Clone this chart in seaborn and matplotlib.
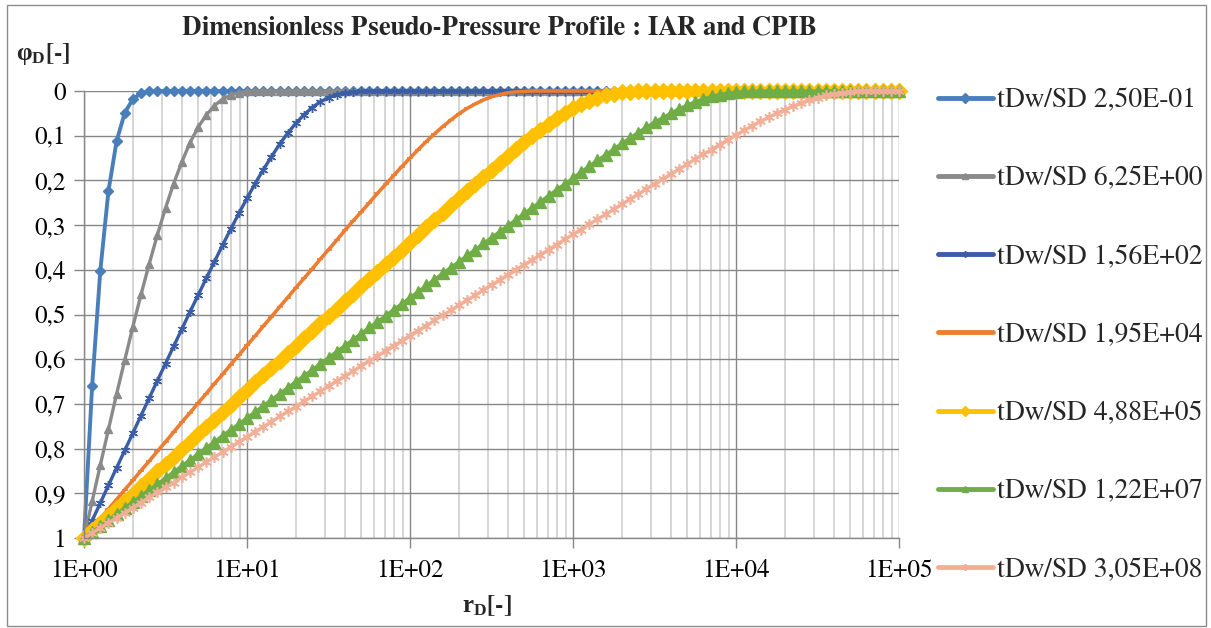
import os
import numpy as np
import matplotlib
matplotlib.use("Agg")
import matplotlib.pyplot as plt
import matplotlib.font_manager as fm
import seaborn as sns
from matplotlib.patches import Rectangle
from matplotlib.ticker import FixedLocator, FuncFormatter, LogLocator, NullFormatter

# ---------------------------------------------------------------------------
# Data: dimensionless pseudo-pressure phi_D sampled on a log grid of r_D
# (20 samples per decade, r_D = 1 ... 1E+05)
# ---------------------------------------------------------------------------
r_grid = np.logspace(0, 5, 101)

series_labels = [
    "tDw/SD 2,50E-01",
    "tDw/SD 6,25E+00",
    "tDw/SD 1,56E+02",
    "tDw/SD 1,95E+04",
    "tDw/SD 4,88E+05",
    "tDw/SD 1,22E+07",
    "tDw/SD 3,05E+08",
]

phi_t1 = [
    1.000, 0.659, 0.402, 0.224, 0.112, 0.049, 0.018, 0.005, 0.001, 0,
    0, 0, 0, 0, 0, 0, 0, 0, 0, 0,
    0, 0, 0, 0, 0, 0, 0, 0, 0, 0,
    0, 0, 0, 0, 0, 0, 0, 0, 0, 0,
    0, 0, 0, 0, 0, 0, 0, 0, 0, 0,
    0, 0, 0, 0, 0, 0, 0, 0, 0, 0,
    0, 0, 0, 0, 0, 0, 0, 0, 0, 0,
    0, 0, 0, 0, 0, 0, 0, 0, 0, 0,
    0, 0, 0, 0, 0, 0, 0, 0, 0, 0,
    0, 0, 0, 0, 0, 0, 0, 0, 0, 0,
    0,
]
phi_t2 = [
    1.000, 0.918, 0.837, 0.757, 0.678, 0.602, 0.527, 0.455, 0.387, 0.322,
    0.262, 0.207, 0.159, 0.116, 0.081, 0.054, 0.033, 0.018, 0.009, 0.004,
    0.001, 0, 0, 0, 0, 0, 0, 0, 0, 0,
    0, 0, 0, 0, 0, 0, 0, 0, 0, 0,
    0, 0, 0, 0, 0, 0, 0, 0, 0, 0,
    0, 0, 0, 0, 0, 0, 0, 0, 0, 0,
    0, 0, 0, 0, 0, 0, 0, 0, 0, 0,
    0, 0, 0, 0, 0, 0, 0, 0, 0, 0,
    0, 0, 0, 0, 0, 0, 0, 0, 0, 0,
    0, 0, 0, 0, 0, 0, 0, 0, 0, 0,
    0,
]
phi_t3 = [
    1.000, 0.961, 0.922, 0.882, 0.843, 0.804, 0.765, 0.726, 0.687, 0.648,
    0.610, 0.571, 0.533, 0.494, 0.457, 0.419, 0.382, 0.345, 0.309, 0.274,
    0.240, 0.207, 0.176, 0.147, 0.119, 0.094, 0.072, 0.053, 0.037, 0.024,
    0.015, 0.008, 0.004, 0.002, 0.001, 0, 0, 0, 0, 0,
    0, 0, 0, 0, 0, 0, 0, 0, 0, 0,
    0, 0, 0, 0, 0, 0, 0, 0, 0, 0,
    0, 0, 0, 0, 0, 0, 0, 0, 0, 0,
    0, 0, 0, 0, 0, 0, 0, 0, 0, 0,
    0, 0, 0, 0, 0, 0, 0, 0, 0, 0,
    0, 0, 0, 0, 0, 0, 0, 0, 0, 0,
    0,
]
phi_t4 = [
    1.000, 0.978, 0.957, 0.935, 0.914, 0.892, 0.871, 0.849, 0.828, 0.806,
    0.785, 0.763, 0.741, 0.720, 0.698, 0.677, 0.655, 0.634, 0.612, 0.591,
    0.569, 0.548, 0.526, 0.505, 0.483, 0.462, 0.440, 0.419, 0.398, 0.376,
    0.355, 0.334, 0.312, 0.291, 0.271, 0.250, 0.229, 0.209, 0.189, 0.169,
    0.150, 0.131, 0.113, 0.096, 0.080, 0.065, 0.051, 0.039, 0.029, 0.020,
    0.013, 0.008, 0.004, 0.002, 0.001, 0, 0, 0, 0, 0,
    0, 0, 0, 0, 0, 0, 0, 0, 0, 0,
    0, 0, 0, 0, 0, 0, 0, 0, 0, 0,
    0, 0, 0, 0, 0, 0, 0, 0, 0, 0,
    0, 0, 0, 0, 0, 0, 0, 0, 0, 0,
    0,
]
phi_t5 = [
    1.000, 0.983, 0.967, 0.950, 0.934, 0.917, 0.901, 0.884, 0.868, 0.851,
    0.834, 0.818, 0.801, 0.785, 0.768, 0.752, 0.735, 0.719, 0.702, 0.685,
    0.669, 0.652, 0.636, 0.619, 0.603, 0.586, 0.570, 0.553, 0.536, 0.520,
    0.503, 0.487, 0.470, 0.454, 0.437, 0.421, 0.404, 0.388, 0.371, 0.355,
    0.338, 0.322, 0.305, 0.289, 0.272, 0.256, 0.240, 0.224, 0.208, 0.192,
    0.176, 0.160, 0.145, 0.130, 0.115, 0.101, 0.087, 0.074, 0.061, 0.050,
    0.039, 0.030, 0.022, 0.015, 0.010, 0.006, 0.003, 0.002, 0.001, 0,
    0, 0, 0, 0, 0, 0, 0, 0, 0, 0,
    0, 0, 0, 0, 0, 0, 0, 0, 0, 0,
    0, 0, 0, 0, 0, 0, 0, 0, 0, 0,
    0,
]
phi_t6 = [
    1.000, 0.987, 0.973, 0.960, 0.946, 0.933, 0.919, 0.906, 0.892, 0.879,
    0.866, 0.852, 0.839, 0.825, 0.812, 0.798, 0.785, 0.771, 0.758, 0.745,
    0.731, 0.718, 0.704, 0.691, 0.677, 0.664, 0.650, 0.637, 0.624, 0.610,
    0.597, 0.583, 0.570, 0.556, 0.543, 0.529, 0.516, 0.503, 0.489, 0.476,
    0.462, 0.449, 0.435, 0.422, 0.408, 0.395, 0.382, 0.368, 0.355, 0.341,
    0.328, 0.315, 0.301, 0.288, 0.274, 0.261, 0.248, 0.234, 0.221, 0.208,
    0.195, 0.181, 0.168, 0.155, 0.143, 0.130, 0.117, 0.105, 0.093, 0.081,
    0.070, 0.060, 0.050, 0.040, 0.032, 0.024, 0.018, 0.012, 0.008, 0.005,
    0.003, 0.001, 0.001, 0, 0, 0, 0, 0, 0, 0,
    0, 0, 0, 0, 0, 0, 0, 0, 0, 0,
    0,
]
phi_t7 = [
    1.000, 0.989, 0.977, 0.966, 0.955, 0.943, 0.932, 0.921, 0.909, 0.898,
    0.887, 0.876, 0.864, 0.853, 0.842, 0.830, 0.819, 0.808, 0.796, 0.785,
    0.774, 0.762, 0.751, 0.740, 0.728, 0.717, 0.706, 0.694, 0.683, 0.672,
    0.660, 0.649, 0.638, 0.627, 0.615, 0.604, 0.593, 0.581, 0.570, 0.559,
    0.547, 0.536, 0.525, 0.513, 0.502, 0.491, 0.479, 0.468, 0.457, 0.445,
    0.434, 0.423, 0.411, 0.400, 0.389, 0.378, 0.366, 0.355, 0.344, 0.332,
    0.321, 0.310, 0.298, 0.287, 0.276, 0.265, 0.253, 0.242, 0.231, 0.219,
    0.208, 0.197, 0.186, 0.175, 0.164, 0.152, 0.141, 0.131, 0.120, 0.109,
    0.099, 0.088, 0.078, 0.068, 0.059, 0.050, 0.042, 0.034, 0.027, 0.020,
    0.015, 0.010, 0.007, 0.004, 0.002, 0.001, 0, 0, 0, 0,
    0,
]

x_tick_values = [1e0, 1e1, 1e2, 1e3, 1e4, 1e5]
y_tick_values = [0.0, 0.1, 0.2, 0.3, 0.4, 0.5, 0.6, 0.7, 0.8, 0.9, 1.0]

all_phi = [phi_t1, phi_t2, phi_t3, phi_t4, phi_t5, phi_t6, phi_t7]
for p in all_phi:
    assert len(p) == len(r_grid), len(p)

# ---------------------------------------------------------------------------
# Fonts: a Times-like serif, loaded from its file
# ---------------------------------------------------------------------------
def find_font_file(candidates):
    files = fm.findSystemFonts()
    for cand in candidates:
        for f in files:
            if os.path.basename(f).lower() == cand.lower():
                return f
    return None


serif_regular = find_font_file(["FreeSerif.ttf", "LiberationSerif-Regular.ttf",
                                "DejaVuSerif.ttf"])
serif_bold = find_font_file(["FreeSerifBold.ttf", "LiberationSerif-Bold.ttf",
                             "DejaVuSerif-Bold.ttf"])


def fp(size, bold=False):
    path = serif_bold if bold else serif_regular
    if path:
        return fm.FontProperties(fname=path, size=size)
    return fm.FontProperties(family="serif", size=size,
                             weight="bold" if bold else "normal")


sns.set_theme(style="white")
plt.rcParams["font.family"] = "serif"
plt.rcParams["font.serif"] = ["FreeSerif", "Liberation Serif", "DejaVu Serif"]
plt.rcParams["mathtext.fontset"] = "custom"
plt.rcParams["mathtext.rm"] = "Liberation Serif"
plt.rcParams["mathtext.bf"] = "Liberation Serif:bold"
plt.rcParams["mathtext.it"] = "Liberation Serif:italic"

colors = ["#4A7EBB", "#8A8A8A", "#3A5DA6", "#ED7D31", "#FFC000", "#70AD47", "#F2AF98"]
markers = ["D", "^", (6, 2, 0), "_", "D", "^", (6, 2, 0)]
msizes = [5.0, 6.0, 6.5, 4.0, 8.0, 9.0, 7.5]
mews = [1.0, 1.0, 1.0, 1.2, 1.0, 1.0, 1.2]
lws = [2.8, 2.4, 2.4, 2.6, 2.4, 2.4, 2.4]

W, H = 1211, 628
fig = plt.figure(figsize=(W / 100, H / 100), dpi=100)
fig.patch.set_facecolor("white")
ax = fig.add_axes([84 / W, 1 - 538 / H, (899 - 84) / W, (538 - 91) / H])
ax.set_xscale("log")

for phi, lab, col, mk, ms, mew, lw in zip(all_phi, series_labels, colors, markers,
                                           msizes, mews, lws):
    sns.lineplot(
        x=r_grid, y=phi, ax=ax, color=col, linewidth=lw,
        marker=mk, markersize=ms, markerfacecolor=col, markeredgecolor=col,
        markeredgewidth=mew, label=lab, clip_on=False,
        estimator=None, sort=False,
    )

ax.set_xlim(1, 1e5)
ax.set_ylim(1, 0)

ax.xaxis.set_major_locator(FixedLocator(x_tick_values))
ax.xaxis.set_major_formatter(FuncFormatter(lambda v, p: f"1E+{int(round(np.log10(v))):02d}"))
ax.xaxis.set_minor_locator(LogLocator(base=10, subs=np.arange(2, 10)))
ax.xaxis.set_minor_formatter(NullFormatter())


def comma_fmt(v, p):
    if abs(v) < 1e-9:
        return "0"
    if abs(v - 1) < 1e-9:
        return "1"
    return f"{v:.1f}".replace(".", ",")


ax.yaxis.set_major_locator(FixedLocator(y_tick_values))
ax.yaxis.set_major_formatter(FuncFormatter(comma_fmt))

grid_dark = "#878787"
ax.set_axisbelow(True)
ax.grid(which="major", axis="both", color=grid_dark, linewidth=1.0)
ax.grid(which="minor", axis="x", color="#d2d2d2", linewidth=1.3)
ax.tick_params(axis="x", which="major", bottom=True, direction="out", length=7,
               width=1, color=grid_dark, pad=8, labelcolor="black")
ax.tick_params(axis="x", which="minor", bottom=False, length=0)
ax.tick_params(axis="y", which="major", left=True, direction="out", length=7,
               width=1, color=grid_dark, pad=6, labelcolor="black")
tick_fp = fp(18.2)
for lbl in ax.get_xticklabels() + ax.get_yticklabels():
    lbl.set_fontproperties(tick_fp)
for side in ["top", "right"]:
    ax.spines[side].set_visible(False)
for side in ["left", "bottom"]:
    ax.spines[side].set_color(grid_dark)
    ax.spines[side].set_linewidth(1.0)
ax.set_xlabel("")
ax.set_ylabel("")

# Legend to the right of the plot area
leg = ax.legend(
    loc="upper left", bbox_to_anchor=(938 / W, 1 - 88 / H), bbox_transform=fig.transFigure,
    frameon=False, prop=fp(20), handlelength=1.98,
    handletextpad=0.14, labelspacing=1.9, borderpad=0, borderaxespad=0,
)
for line in leg.get_lines():
    line.set_linewidth(3.5)
    line.set_markersize(5)

# Titles
fig.text(499 / W, 1 - 28 / H, "Dimensionless Pseudo-Pressure Profile : IAR and CPIB",
         ha="center", va="center", fontproperties=fp(19.3, bold=True))
fig.text(16 / W, 1 - 54 / H, r"$\mathbf{φ_D}$[-]", ha="left", va="center",
         fontproperties=fp(18, bold=True))
fig.text(462 / W, 1 - 606 / H, r"$\mathbf{r_D}$[-]", ha="left", va="center",
         fontproperties=fp(18, bold=True))

# Thin frame around the whole chart
fig.add_artist(Rectangle((7 / W, 1 - 626 / H), (1206 - 7) / W, (626 - 5) / H,
                         transform=fig.transFigure, fill=False,
                         edgecolor="#8c8c8c", linewidth=1.0))

fig.savefig("out.png", dpi=100)
